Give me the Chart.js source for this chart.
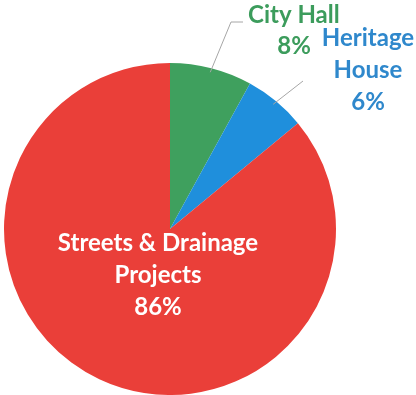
<!DOCTYPE html>
<html>
<head>
<meta charset="utf-8">
<script src="https://cdn.jsdelivr.net/npm/chart.js@4/dist/chart.umd.min.js"></script>
<style>
  html, body { margin: 0; padding: 0; background: #ffffff; }
  #wrap { position: relative; width: 416px; height: 395px; }
</style>
</head>
<body>
<div id="wrap"><canvas id="pie" width="416" height="395"></canvas></div>
<script>
// Budget share by project
const categories = ['City Hall', 'Heritage House', 'Streets & Drainage Projects'];
const shares = [8, 6, 86];
// How each category name is broken over lines in its label
const labelLines = [['City Hall'], ['Heritage', 'House'], ['Streets & Drainage', 'Projects']];

const sliceColors = ['#3fa05e', '#1f8fdc', '#ea3f39'];
const textColors = ['#3c9c5c', '#2f88cc', '#ffffff'];
const FONT = 'bold 24px Lato, "Open Sans", sans-serif';

// Label placement, relative to the pie centre (cx, cy) and radius r
const labelStyle = [
  { outside: true, align: 'left', firstX: 78, centerX: 124, top: -206, lineGap: 31,
    elbow: [61, -207], tail: [73, -207] },
  { outside: true, align: 'center', centerX: 198, top: -183, lineGap: 32,
    elbow: [133, -148] },
  { outside: false, align: 'center', centerX: -12, top: 22, lineGap: 32 }
];

const pieLabels = {
  id: 'pieLabels',
  afterDatasetsDraw(chart) {
    const ctx = chart.ctx;
    const arcs = chart.getDatasetMeta(0).data;
    ctx.save();
    ctx.font = FONT;
    arcs.forEach((arc, i) => {
      const { x: cx, y: cy, startAngle, endAngle, outerRadius: r } = arc.getProps(['x', 'y', 'startAngle', 'endAngle', 'outerRadius'], true);
      const st = labelStyle[i];
      const mid = (startAngle + endAngle) / 2;
      if (st.outside) {
        // leader line from the slice edge out to the label
        const sx = cx + Math.cos(mid) * r * 0.975;
        const sy = cy + Math.sin(mid) * r * 0.975;
        ctx.strokeStyle = '#a6a6a6';
        ctx.lineWidth = 1;
        ctx.beginPath();
        ctx.moveTo(sx, sy);
        ctx.lineTo(cx + st.elbow[0], cy + st.elbow[1]);
        if (st.tail) ctx.lineTo(cx + st.tail[0], cy + st.tail[1]);
        ctx.stroke();
      }
      const lines = labelLines[i].concat([shares[i] + '%']);
      ctx.fillStyle = textColors[i];
      ctx.textBaseline = 'alphabetic';
      lines.forEach((t, k) => {
        const y = cy + st.top + k * st.lineGap;
        if (st.align === 'left' && k === 0) {
          ctx.textAlign = 'left';
          ctx.fillText(t, cx + st.firstX, y);
        } else {
          ctx.textAlign = 'center';
          ctx.fillText(t, cx + st.centerX, y);
        }
      });
    });
    ctx.restore();
  }
};

new Chart(document.getElementById('pie'), {
  type: 'pie',
  data: {
    labels: categories,
    datasets: [{
      data: shares,
      backgroundColor: sliceColors,
      borderWidth: 0,
      hoverOffset: 0
    }]
  },
  options: {
    responsive: false,
    animation: false,
    events: [],
    layout: { padding: { left: 4, right: 80, top: 63, bottom: -2 } },
    plugins: {
      legend: { display: false },
      tooltip: { enabled: false }
    }
  },
  plugins: [pieLabels]
});
</script>
</body>
</html>
